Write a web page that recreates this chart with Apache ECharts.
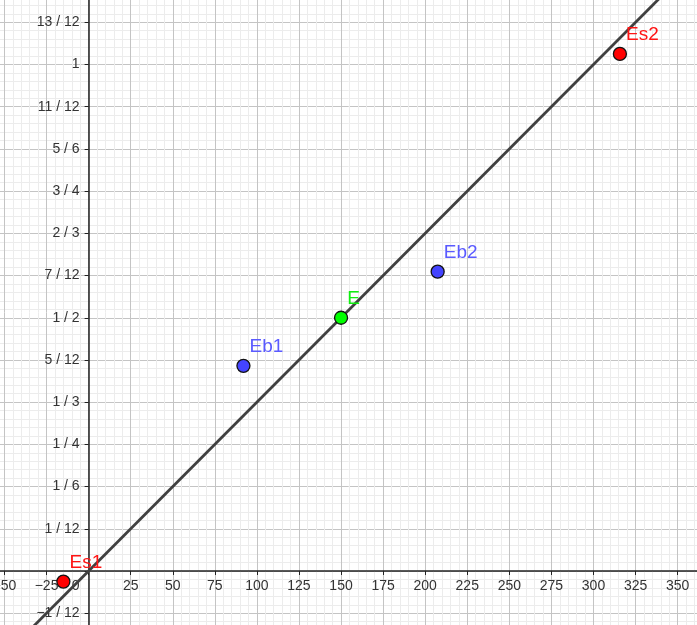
<!DOCTYPE html>
<html>
<head>
<meta charset="utf-8">
<script src="https://cdn.jsdelivr.net/npm/echarts@6/dist/echarts.min.js"></script>
<style>
html,body{margin:0;padding:0;background:#fff;}
#chart{width:697px;height:625px;}
</style>
</head>
<body>
<div id="chart"></div>
<script>
// Points
const pointNames = ['Es1', 'Es2', 'E', 'Eb1', 'Eb2'];
const pointX = [-15, 315.7, 150, 92, 207.4];
const pointY = [-0.021, 1.021, 0.5, 0.405, 0.591];
const pointColors = ['#ff0000', '#ff0000', '#00ff00', '#4444ff', '#4444ff'];
const labelColors = ['#ff1414', '#ff1414', '#11ee11', '#5a5aff', '#5a5aff'];

// Straight line through the origin and E
const lineX = [-75, 375];
const lineY = [-0.25, 1.25];

// Axis ticks
const xTickStep = 25;
const yTickStep = 1 / 12;
const xRange = [-75, 375];
const yRange = [-2 / 12, 14 / 12];

function gcd(a, b) { return b ? gcd(b, a % b) : a; }
function fracLabel(v) {
  const k = Math.round(v * 12);
  if (k === 0) return '';
  const g = gcd(Math.abs(k), 12);
  const n = k / g, d = 12 / g;
  const s = d === 1 ? String(n) : n + ' / ' + d;
  return s.replace('-', '\u2212');
}

const W = 697, H = 625;
const gridBox = { left: -37.6, right: -22.7, top: -19.9, bottom: -30.4 };
const gw = W - gridBox.left - gridBox.right;
const gh = H - gridBox.top - gridBox.bottom;
// shift the axes so they cross at the origin
const yAxisOffset = -((0 - xRange[0]) / (xRange[1] - xRange[0])) * gw;
const xAxisOffset = -((0 - yRange[0]) / (yRange[1] - yRange[0])) * gh;

const chart = echarts.init(document.getElementById('chart'));
const font = 'Liberation Sans, Arial, sans-serif';

const scatterData = pointNames.map((n, i) => ({
  name: n,
  value: [pointX[i], pointY[i]],
  itemStyle: { color: pointColors[i], borderColor: '#111', borderWidth: 1.3, opacity: 1 },
  label: { color: labelColors[i] }
}));

chart.setOption({
  backgroundColor: '#ffffff',
  animation: false,
  grid: Object.assign({ containLabel: false, outerBoundsMode: 'none' }, gridBox),
  xAxis: {
    type: 'value', position: 'bottom', offset: xAxisOffset,
    min: xRange[0], max: xRange[1], interval: xTickStep,
    axisLine: { onZero: false, lineStyle: { color: '#222', width: 1.5 } },
    axisTick: { show: true, length: 4, lineStyle: { color: '#222' } },
    axisLabel: {
      margin: 8, fontSize: 14, color: '#333', fontFamily: font,
      formatter: function (v) {
        if (Math.abs(v) < 1e-9) return '{z|0}';
        return String(Math.round(v)).replace('-', '\u2212');
      },
      rich: { z: { fontSize: 14, color: '#333', fontFamily: font, padding: [0, 26, 0, 0] } }
    },
    splitLine: { show: true, lineStyle: { color: '#c4c4c4', width: 1 } },
    minorTick: { show: false, splitNumber: 5 },
    minorSplitLine: { show: true, lineStyle: { color: '#ececec', width: 1 } }
  },
  yAxis: {
    type: 'value', position: 'left', offset: yAxisOffset,
    min: yRange[0], max: yRange[1], interval: yTickStep,
    axisLine: { onZero: false, lineStyle: { color: '#222', width: 1.5 } },
    axisTick: { show: true, length: 4, lineStyle: { color: '#222' } },
    axisLabel: {
      margin: 9, fontSize: 14, color: '#333', fontFamily: font,
      formatter: fracLabel
    },
    splitLine: { show: true, lineStyle: { color: '#c4c4c4', width: 1 } },
    minorTick: { show: false, splitNumber: 5 },
    minorSplitLine: { show: true, lineStyle: { color: '#ececec', width: 1 } }
  },
  series: [
    {
      type: 'line',
      data: lineX.map((x, i) => [x, lineY[i]]),
      showSymbol: false,
      symbol: 'none',
      lineStyle: { color: '#404040', width: 2.8 },
      silent: true,
      z: 3
    },
    {
      type: 'scatter',
      data: scatterData,
      symbol: 'circle',
      symbolSize: 13,
      z: 5,
      itemStyle: { opacity: 1 },
      label: {
        show: true,
        position: 'right',
        distance: 0,
        offset: [-1, -19],
        fontSize: 19,
        fontFamily: font,
        formatter: '{b}'
      }
    }
  ]
});
</script>
</body>
</html>
